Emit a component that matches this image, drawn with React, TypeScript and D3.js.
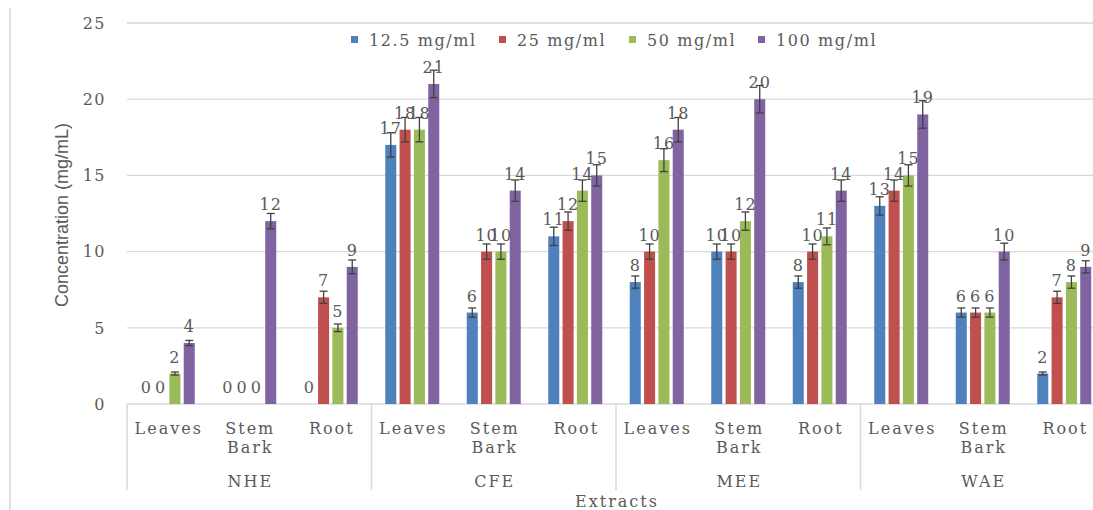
import React from "react";
import * as d3 from "d3";

const groups = ["NHE", "CFE", "MEE", "WAE"];
const parts = ["Leaves", "Stem Bark", "Root"];
const seriesNames = ["12.5 mg/ml", "25 mg/ml", "50 mg/ml", "100 mg/ml"];
const colors = ["#4F81BD", "#C0504D", "#9BBB59", "#8064A2"];

// values per category (group x part), one per series
const s125 = [0, 0, 0, 17, 6, 11, 8, 10, 8, 13, 6, 2];
const s25 = [0, 0, 7, 18, 10, 12, 10, 10, 10, 14, 6, 7];
const s50 = [2, 0, 5, 18, 10, 14, 16, 12, 11, 15, 6, 8];
const s100 = [4, 12, 9, 21, 14, 15, 18, 20, 14, 19, 10, 9];

const e125 = [0, 0, 0, 0.8, 0.3, 0.6, 0.4, 0.5, 0.4, 0.6, 0.3, 0.1];
const e25 = [0, 0, 0.4, 0.8, 0.5, 0.6, 0.5, 0.5, 0.5, 0.7, 0.3, 0.4];
const e50 = [0.1, 0, 0.25, 0.8, 0.5, 0.7, 0.75, 0.6, 0.55, 0.7, 0.3, 0.4];
const e100 = [0.17, 0.5, 0.45, 0.9, 0.7, 0.7, 0.8, 0.9, 0.7, 0.9, 0.55, 0.4];

const yTicks = [0, 5, 10, 15, 20, 25];

const values = [s125, s25, s50, s100];
const errors = [e125, e25, e50, e100];

const FONT = "DejaVu Serif";
const TXT = "#5a5a5a";
const GRID = "#D9D9D9";

export default function App() {
  const W = 1093;
  const H = 510;
  const x0 = 127;
  const catW = 81.5;
  const nCat = groups.length * parts.length;
  const cats = d3.range(nCat).map(String);

  const xCat = d3
    .scaleBand<string>()
    .domain(cats)
    .range([x0, x0 + catW * nCat])
    .paddingInner(0)
    .paddingOuter(0);

  const xSer = d3
    .scaleBand<string>()
    .domain(seriesNames)
    .range([13.75, 67.75])
    .paddingInner(0.23)
    .paddingOuter(0);

  const y = d3.scaleLinear().domain([0, 25]).range([404, 23]);

  const groupW = catW * parts.length;

  return (
    <svg
      width={W}
      height={H}
      style={{ position: "absolute", left: 0, top: 0, background: "#fff" }}
      fontFamily={FONT}
    >
      <rect x={0} y={0} width={W} height={H} fill="#fff" />
      {/* left border of chart area */}
      <line x1={10} x2={10} y1={8} y2={H} stroke={GRID} strokeWidth={1.5} />

      {/* gridlines */}
      {yTicks.map((t) => (
        <line
          key={"g" + t}
          x1={x0}
          x2={W}
          y1={y(t)}
          y2={y(t)}
          stroke={GRID}
          strokeWidth={1.3}
        />
      ))}

      {/* y tick labels */}
      {yTicks.map((t) => (
        <text
          key={"yt" + t}
          x={106}
          y={y(t)}
          dy="0.36em"
          textAnchor="end"
          fontSize={16}
          letterSpacing={1.5}
          fill={TXT}
        >
          {t}
        </text>
      ))}

      {/* y axis title */}
      <text
        transform={`translate(68, ${215}) rotate(-90)`}
        textAnchor="middle"
        fontFamily="Liberation Sans Narrow, Liberation Sans, Arial"
        fontSize={18}
        textLength={184}
        lengthAdjust="spacingAndGlyphs"
        fill={TXT}
      >
        Concentration  (mg/mL)
      </text>

      {/* separators below axis */}
      {d3.range(groups.length + 1).map((g) => (
        <line
          key={"sep" + g}
          x1={x0 + g * groupW}
          x2={x0 + g * groupW}
          y1={404}
          y2={490}
          stroke={GRID}
          strokeWidth={1.5}
        />
      ))}

      {/* bars */}
      {values.map((arr, si) =>
        arr.map((v, ci) => {
          const bx = (xCat(String(ci)) as number) + (xSer(seriesNames[si]) as number);
          const bw = xSer.bandwidth();
          return (
            <rect
              key={`b${si}-${ci}`}
              x={bx}
              y={y(v)}
              width={bw}
              height={y(0) - y(v)}
              fill={colors[si]}
            />
          );
        })
      )}

      {/* error bars */}
      {values.map((arr, si) =>
        arr.map((v, ci) => {
          const err = errors[si][ci];
          if (err <= 0) return null;
          const cx =
            (xCat(String(ci)) as number) +
            (xSer(seriesNames[si]) as number) +
            xSer.bandwidth() / 2;
          const yt = y(v + err);
          const yb = y(v - err);
          return (
            <g key={`e${si}-${ci}`} stroke="#404040" strokeWidth={1.3}>
              <line x1={cx} x2={cx} y1={yt} y2={yb} />
              <line x1={cx - 4} x2={cx + 4} y1={yt} y2={yt} />
              <line x1={cx - 4} x2={cx + 4} y1={yb} y2={yb} />
            </g>
          );
        })
      )}

      {/* data labels */}
      {values.map((arr, si) =>
        arr.map((v, ci) => {
          const cx =
            (xCat(String(ci)) as number) +
            (xSer(seriesNames[si]) as number) +
            xSer.bandwidth() / 2;
          return (
            <text
              key={`l${si}-${ci}`}
              x={cx}
              y={y(v) - 11}
              textAnchor="middle"
              fontSize={16}
              letterSpacing={1}
              fill={TXT}
            >
              {v}
            </text>
          );
        })
      )}

      {/* category labels */}
      {cats.map((c, ci) => {
        const part = parts[ci % parts.length];
        const cx = (xCat(c) as number) + catW / 2;
        const lines = part.split(" ");
        return (
          <text
            key={"cl" + ci}
            x={cx}
            textAnchor="middle"
            fontSize={16}
            letterSpacing={2}
            fill={TXT}
          >
            {lines.map((ln, li) => (
              <tspan key={li} x={cx + 1} y={434 + li * 19}>
                {ln}
              </tspan>
            ))}
          </text>
        );
      })}

      {/* group labels */}
      {groups.map((g, gi) => (
        <text
          key={"gl" + gi}
          x={x0 + gi * groupW + groupW / 2 + 1}
          y={487}
          textAnchor="middle"
          fontSize={16}
          letterSpacing={2}
          fill={TXT}
        >
          {g}
        </text>
      ))}

      {/* x axis title */}
      <text
        x={617}
        y={507}
        textAnchor="middle"
        fontSize={16}
        letterSpacing={2}
        fill={TXT}
      >
        Extracts
      </text>

      {/* legend */}
      {seriesNames.map((s, i) => {
        const lx = [351, 499, 629, 758][i];
        return (
          <g key={"lg" + i}>
            <rect x={lx} y={36} width={7} height={7} fill={colors[i]} />
            <text
              x={lx + 18}
              y={40}
              dy="0.36em"
              fontSize={16}
              letterSpacing={1.6}
              fill={TXT}
            >
              {s}
            </text>
          </g>
        );
      })}
    </svg>
  );
}
